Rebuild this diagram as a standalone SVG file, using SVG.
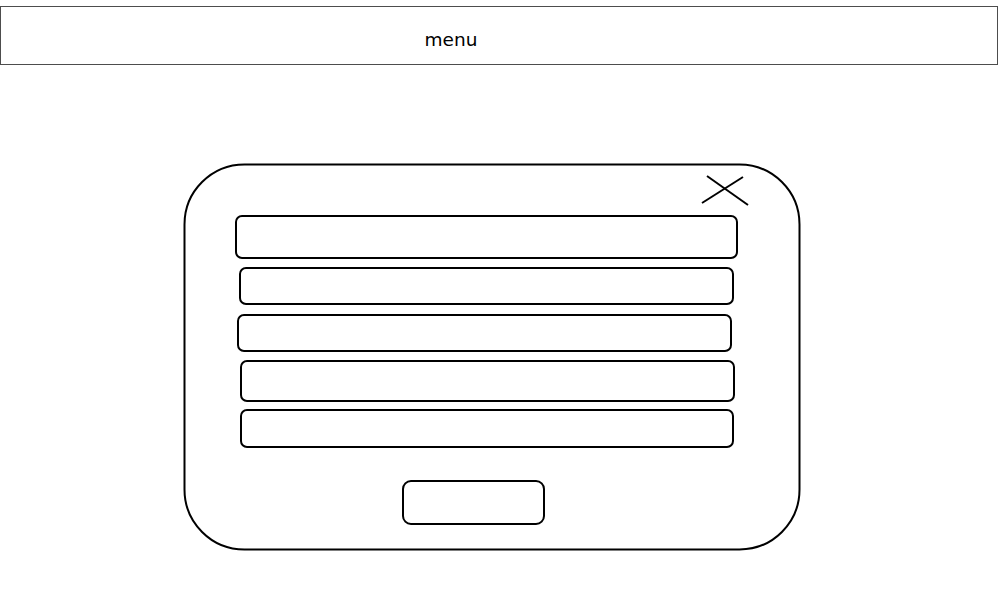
<svg xmlns="http://www.w3.org/2000/svg" width="1000" height="600" viewBox="0 0 1000 600">
<style>
.s{fill:#fff;stroke:#000;stroke-width:2}
.l{fill:none;stroke:#000;stroke-width:2}
.t{font-family:"DejaVu Sans",Verdana,sans-serif;font-size:18.5px;fill:#000}
</style>
<rect width="1000" height="600" fill="#fff"/>
<g id="menu">
<rect x="0.5" y="6.5" width="997" height="58" fill="#fff" stroke="#4d4d4d" stroke-width="1"/>
<text class="t" x="451" y="45.5" text-anchor="middle">menu</text>
</g>
<g id="dialog">
<rect class="s" x="184.5" y="164.5" width="615" height="385" rx="60" ry="60"/>
</g>
<g id="close">
<line class="l" x1="702" y1="203" x2="743" y2="177"/>
<line class="l" x1="707" y1="176" x2="748" y2="205"/>
</g>
<g id="field1"><rect class="s" x="236" y="216" width="501" height="42" rx="6"/></g>
<g id="field2"><rect class="s" x="240" y="268" width="493" height="36" rx="6"/></g>
<g id="field3"><rect class="s" x="238" y="315" width="493" height="36" rx="6"/></g>
<g id="field4"><rect class="s" x="241" y="361" width="493" height="40" rx="6"/></g>
<g id="field5"><rect class="s" x="241" y="410" width="492" height="37" rx="6"/></g>
<g id="button"><rect class="s" x="403" y="481" width="141" height="43" rx="8"/></g>
<g id="connectors"/>
</svg>
